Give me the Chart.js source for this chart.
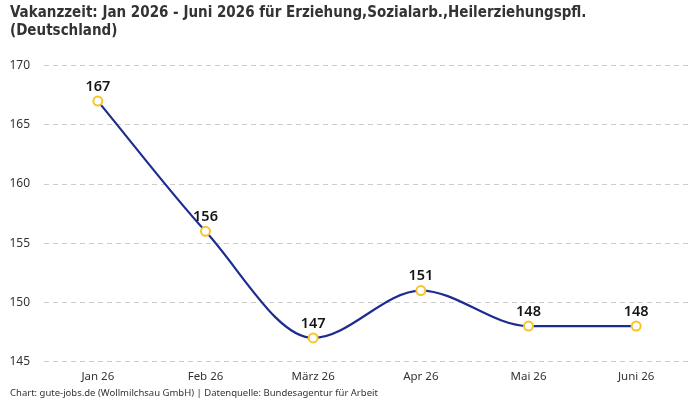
<!DOCTYPE html>
<html>
<head>
<meta charset="utf-8">
<script src="https://cdn.jsdelivr.net/npm/chart.js@4"></script>
<style>
  html, body { margin: 0; padding: 0; background: #fff; }
  #wrap { width: 700px; height: 400px; }
</style>
</head>
<body>
<div id="wrap"><canvas id="chart"></canvas></div>
<script>
const months = ["Jan 26", "Feb 26", "März 26", "Apr 26", "Mai 26", "Juni 26"];
const vakanz = [167, 156, 147, 151, 148, 148];
const yTicks = [145, 150, 155, 160, 165, 170];

const titleLines = [
  "Vakanzzeit: Jan 2026 - Juni 2026 für Erziehung,Sozialarb.,Heilerziehungspfl.",
  "(Deutschland)"
];
const sourceText = "Chart: gute-jobs.de (Wollmilchsau GmbH) | Datenquelle: Bundesagentur für Arbeit";

const baseFont = "'Noto Sans', 'Liberation Sans', sans-serif";

// value labels above each point
const valueLabels = {
  id: "valueLabels",
  afterDatasetsDraw(chart) {
    const ctx = chart.ctx;
    const meta = chart.getDatasetMeta(0);
    ctx.save();
    ctx.font = "600 14.5px " + baseFont;
    ctx.fillStyle = "#151515";
    ctx.textAlign = "center";
    ctx.textBaseline = "bottom";
    meta.data.forEach((pt, i) => {
      ctx.fillText(String(vakanz[i]), pt.x, pt.y - 7);
    });
    ctx.restore();
  }
};

new Chart(document.getElementById("chart"), {
  type: "line",
  data: {
    labels: months,
    datasets: [{
      data: vakanz,
      borderColor: "#1c2d8f",
      borderWidth: 2.2,
      cubicInterpolationMode: "monotone",
      pointRadius: 4.5,
      pointBorderWidth: 2,
      pointBackgroundColor: "#ffffff",
      pointBorderColor: "#f7c325",
      fill: false
    }]
  },
  options: {
    responsive: true,
    maintainAspectRatio: false,
    animation: false,
    layout: { padding: { left: 10, right: 10, top: 0, bottom: 0 } },
    plugins: {
      legend: { display: false },
      tooltip: { enabled: false },
      title: {
        display: true,
        text: titleLines,
        align: "start",
        color: "#333333",
        font: { family: "'Liberation Sans Narrow', 'DejaVu Sans Condensed', sans-serif", size: 15, weight: "bold", lineHeight: 1.22 },
        padding: { top: 4, bottom: 25 }
      },
      subtitle: {
        display: true,
        position: "bottom",
        text: sourceText,
        align: "start",
        color: "#333333",
        font: { family: baseFont, size: 9.5 },
        padding: { top: 1, bottom: 1 }
      }
    },
    scales: {
      x: {
        offset: true,
        grid: { display: false },
        border: { display: false },
        afterFit(axis) { axis.height = 25; },
        ticks: { color: "#333333", font: { family: baseFont, size: 11.5 }, padding: 0 }
      },
      y: {
        min: 145,
        max: 170,
        afterBuildTicks(axis) { axis.ticks = yTicks.map(v => ({ value: v })); },
        afterFit(axis) { axis.width = 34; },
        grid: { color: "#cccccc", drawTicks: false },
        border: { display: false, dash: [5, 4] },
        ticks: { color: "#333333", font: { family: baseFont, size: 12 }, padding: 14 }
      }
    }
  },
  plugins: [valueLabels]
});
</script>
</body>
</html>
